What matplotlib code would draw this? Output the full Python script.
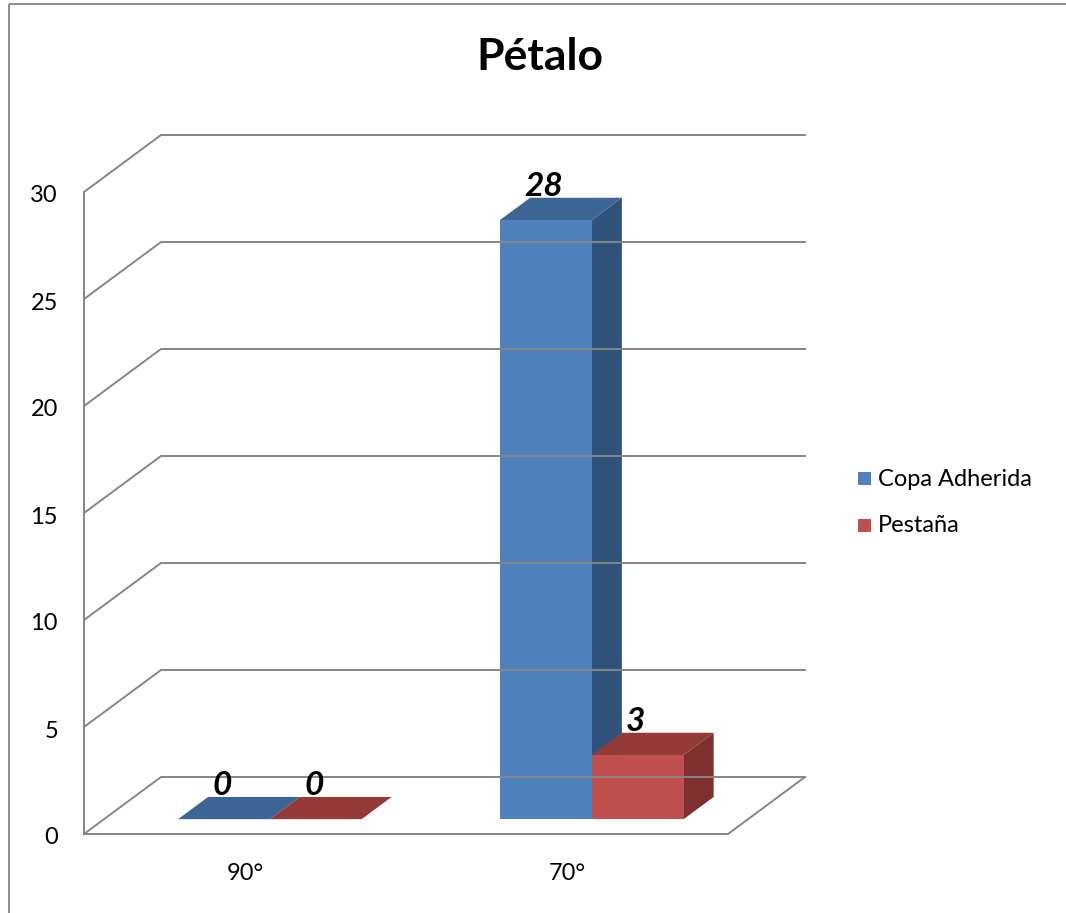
import numpy as np
import matplotlib.pyplot as plt
from matplotlib.patches import Polygon, Rectangle

# data
categories = ['90°', '70°']
series_names = ['Copa Adherida', 'Pestaña']
copa = [0, 28]
pestana = [0, 3]
y_ticks = [0, 5, 10, 15, 20, 25, 30]

plt.rcParams['font.family'] = ['Lato', 'DejaVu Sans']

# layout of the fake 3d box (pixels)
X0, Y0 = 84, 834       # front-left floor corner
SCALE = (834 - 192) / 30.0
DX, DY = 77, 57        # depth offset of back wall
CAT_W = 322
D_FRONT, D_BACK = 0.26, 0.65
BAR_W = 0.285
BAR_START = 0.23
GRID = '#868686'

face_cols = {
    'Copa Adherida': ('#4F81BD', '#3C6494', '#31527A'),
    'Pestaña': ('#C0504D', '#943B39', '#7E302E'),
}


def proj(x, d, v):
    # x in category units, d depth 0..1, v value
    return (X0 + x * CAT_W + d * DX, Y0 - v * SCALE - d * DY)


fig = plt.figure(figsize=(10.66, 9.13), dpi=100)
ax = fig.add_axes([0, 0, 1, 1])
ax.set_xlim(0, 1066)
ax.set_ylim(913, 0)
ax.axis('off')

# chart border
ax.add_patch(Rectangle((9, 4), 1100, 1000, fill=False, ec='#8C8C8C', lw=1.4))

xmax = len(categories)
# gridlines on back wall + left wall
for t in y_ticks:
    p0 = proj(0, 0, t)
    p1 = proj(0, 1, t)
    p2 = proj(xmax, 1, t)
    ax.plot([p0[0], p1[0], p2[0]], [p0[1], p1[1], p2[1]], color=GRID, lw=1.4,
            solid_joinstyle='miter')
    ax.text(p0[0] - 26, p0[1] + 4, str(t), ha='right', va='center', fontsize=17)

# left front vertical axis
a = proj(0, 0, 0)
b = proj(0, 0, y_ticks[-1])
ax.plot([a[0], b[0]], [a[1], b[1]], color=GRID, lw=1.4)

# floor outline
f = [proj(0, 0, 0), proj(xmax, 0, 0), proj(xmax, 1, 0)]
ax.plot([p[0] for p in f], [p[1] for p in f], color=GRID, lw=1.4)

# bars
for i, cat in enumerate(categories):
    for j, (name, vals) in enumerate(zip(series_names, [copa, pestana])):
        v = vals[i]
        x1 = i + BAR_START + j * BAR_W
        x2 = x1 + BAR_W
        front_c, top_c, side_c = face_cols[name]
        if v > 0:
            front = [proj(x1, D_FRONT, 0), proj(x2, D_FRONT, 0),
                     proj(x2, D_FRONT, v), proj(x1, D_FRONT, v)]
            side = [proj(x2, D_FRONT, 0), proj(x2, D_BACK, 0),
                    proj(x2, D_BACK, v), proj(x2, D_FRONT, v)]
            ax.add_patch(Polygon(side, closed=True, fc=side_c, ec='none'))
            ax.add_patch(Polygon(front, closed=True, fc=front_c, ec='none'))
        top = [proj(x1, D_FRONT, v), proj(x2, D_FRONT, v),
               proj(x2, D_BACK, v), proj(x1, D_BACK, v)]
        ax.add_patch(Polygon(top, closed=True, fc=top_c, ec='none'))
        lx = proj((x1 + x2) / 2, D_FRONT, v)[0] - 2
        ly = proj(x1, D_BACK, v)[1]
        ax.text(lx, ly + 3, str(v), ha='center', va='bottom', fontsize=24,
                fontweight='bold', fontstyle='italic')
    cx, cy = proj(i + 0.5, 0, 0)
    ax.text(cx, cy + 39, cat, ha='center', va='center', fontsize=17)

# title
ax.text(540, 57, 'Pétalo', ha='center', va='center', fontsize=32,
        fontweight='bold')

# legend
for k, name in enumerate(series_names):
    yy = 479 + k * 47
    ax.add_patch(Rectangle((858, yy - 7), 13, 13, fc=face_cols[name][0], ec='none'))
    ax.text(878, yy, name, ha='left', va='center', fontsize=17)

fig.savefig('out.png', dpi=100)
